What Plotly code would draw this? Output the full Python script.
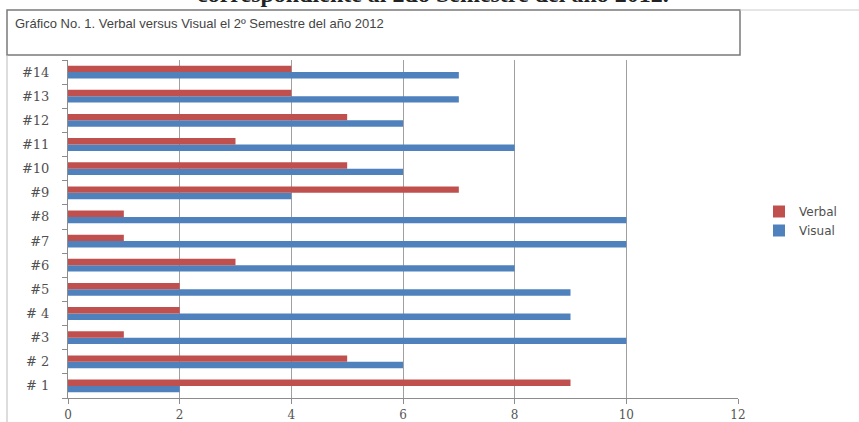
import plotly.graph_objects as go

# Student categories (bottom to top) and their scores
students = ["# 1", "# 2", "#3", "# 4", "#5", "#6", "#7", "#8", "#9", "#10", "#11", "#12", "#13", "#14"]
verbal = [9, 5, 1, 2, 2, 3, 1, 1, 7, 5, 3, 5, 4, 4]
visual = [2, 6, 10, 9, 9, 8, 10, 10, 4, 6, 8, 6, 7, 7]
x_ticks = [0, 2, 4, 6, 8, 10, 12]

RED = "#C0504D"
BLUE = "#4F81BD"
GRID = "#A0A0A0"
AXIS = "#8C8C8C"

fig = go.Figure()
# Visual first so Verbal sits above it within each group
fig.add_trace(go.Bar(y=students, x=visual, name="Visual", orientation="h",
                     marker=dict(color=BLUE, line=dict(width=0))))
fig.add_trace(go.Bar(y=students, x=verbal, name="Verbal", orientation="h",
                     marker=dict(color=RED, line=dict(width=0))))

W, H = 859, 422
L, R, T, B = 68, 121, 60, 24
pw, ph = W - L - R, H - T - B


def px_x(px):
    return (px - L) / pw


def px_y(py):
    return (H - B - py) / ph


fig.update_layout(
    width=W, height=H,
    margin=dict(l=L, r=R, t=T, b=B, autoexpand=False),
    paper_bgcolor="white", plot_bgcolor="white",
    barmode="group", bargap=0.47, bargroupgap=0,
    showlegend=True,
    legend=dict(x=px_x(759), y=px_y(197), xanchor="left", yanchor="top",
                traceorder="reversed", bgcolor="rgba(0,0,0,0)",
                font=dict(family="DejaVu Sans", size=12, color="#505050"),
                itemwidth=30, tracegroupgap=2),
    xaxis=dict(range=[0, 12], tickvals=x_ticks, ticktext=[str(v) for v in x_ticks],
               showgrid=True, gridcolor=GRID, gridwidth=1,
               showline=True, linecolor=AXIS, linewidth=1,
               ticks="outside", ticklen=5, tickcolor=AXIS,
               ticklabelstandoff=1, zeroline=False, automargin=False,
               tickfont=dict(family="DejaVu Serif", size=12, color="#555555")),
    yaxis=dict(categoryorder="array", categoryarray=students,
               showgrid=False, showline=True, linecolor=AXIS, linewidth=1,
               ticks="outside", ticklen=5, tickcolor=AXIS, tickson="boundaries",
               ticklabelstandoff=15, automargin=False,
               tickfont=dict(family="DejaVu Serif", size=13, color="#505050")),
    font=dict(family="Liberation Sans"),
)

# Frame: title box and outer border lines
fig.add_shape(type="rect", xref="paper", yref="paper",
              x0=px_x(7), x1=px_x(740), y0=px_y(55), y1=px_y(10),
              line=dict(color="#7A7A7A", width=1.5), fillcolor="white", layer="below")
fig.add_shape(type="line", xref="paper", yref="paper",
              x0=px_x(7), x1=px_x(7), y0=px_y(55), y1=px_y(425),
              line=dict(color="#BBBBBB", width=1))
fig.add_shape(type="line", xref="paper", yref="paper",
              x0=px_x(740), x1=px_x(859), y0=px_y(10), y1=px_y(10),
              line=dict(color="#CCCCCC", width=1))

# Title inside the box
fig.add_annotation(xref="paper", yref="paper", x=px_x(13), y=px_y(23),
                   xanchor="left", yanchor="middle", showarrow=False,
                   text="Gráfico No. 1. Verbal versus Visual el 2º Semestre del año 2012",
                   font=dict(family="Liberation Sans", size=13, color="#444444"))

# Heading line of the surrounding document, running off the top edge
fig.add_annotation(xref="paper", yref="paper", x=px_x(433), y=px_y(-6.5),
                   xanchor="center", yanchor="middle", showarrow=False,
                   text="<b>correspondiente al 2do Semestre del año 2012.</b>",
                   font=dict(family="Liberation Serif", size=24, color="#222222"))

fig.write_html("out.html")
